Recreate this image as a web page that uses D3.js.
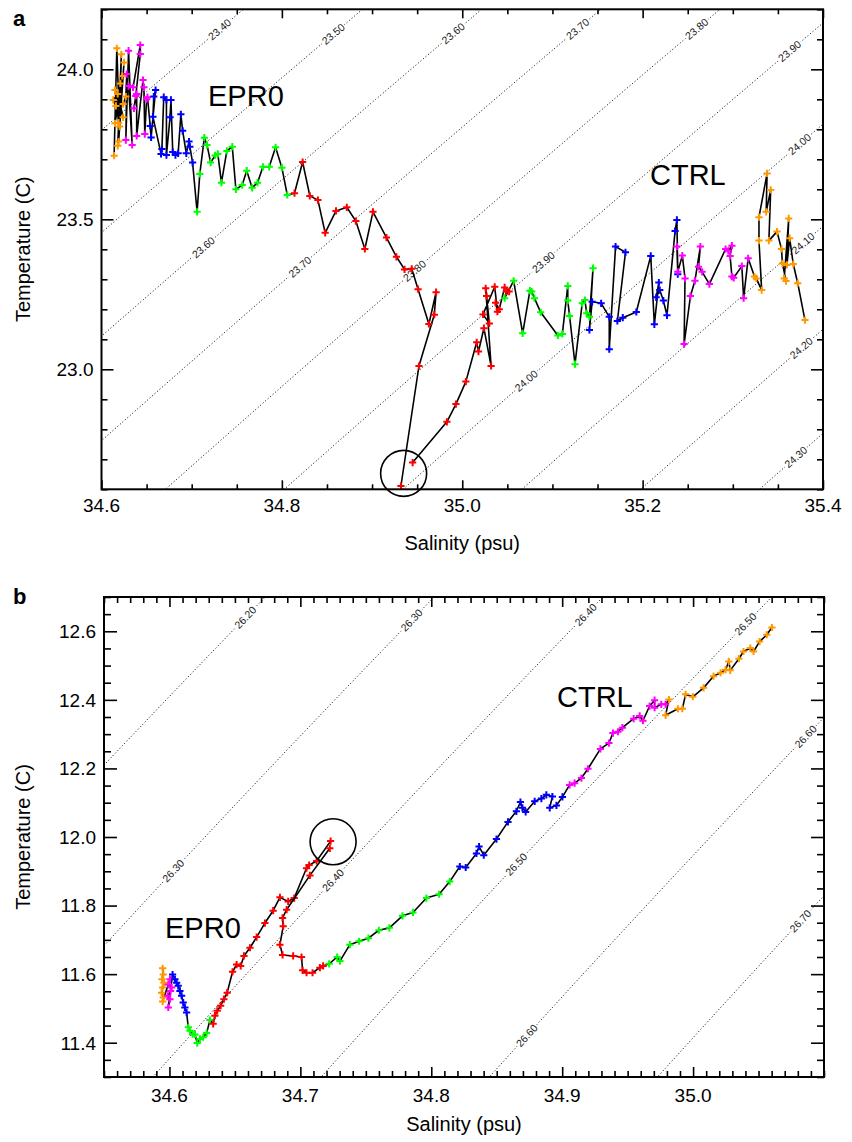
<!DOCTYPE html>
<html><head><meta charset="utf-8">
<script src="https://cdn.jsdelivr.net/npm/d3@7"></script>
<style>
body{margin:0;background:#fff}
svg{display:block}
text{font-family:"Liberation Sans",Arial,Helvetica,sans-serif}
</style></head>
<body><svg id="chart" width="852" height="1142"></svg>
<script>
// ---------------- DATA ----------------
const groupColors = {o:"#FF9900", m:"#FF00FF", b:"#0000FF", g:"#00FF00", r:"#FF0000"};

// Panel a tick labels & isopycnals
const aSalTicks = [34.6, 34.8, 35.0, 35.2, 35.4];
const aTempTicks = [23.0, 23.5, 24.0];
const aSigmaLevels = [23.4, 23.5, 23.6, 23.7, 23.8, 23.9, 24.0, 24.1, 24.2, 24.3];
const aSigmaLabelSal = [[34.731],[34.857],[34.990,34.713],[35.128,34.820],[35.260,34.947],[35.363,35.090],[35.374,35.071],[35.378],[35.376],[35.370]];

// Panel a, EPR0 (orange -> red, ends in circle)
const aEprSal = [
 34.614,34.617,34.620,34.622,34.618,34.625,34.619,34.623,34.615,34.621,34.619,34.615,34.624,34.618,34.613,34.616,34.624,34.627,
 34.628,34.627,34.630,34.634,34.630,34.635,34.643,34.643,34.638,34.636,34.639,34.639,34.646,34.647,34.648,34.650,34.651,
 34.654,34.655,34.660,34.658,34.657,34.666,34.667,34.669,34.672,34.672,34.676,34.677,34.679,34.682,34.685,34.688,34.690,34.694,34.697,34.698,34.701,
 34.706,34.709,34.714,34.717,34.721,34.726,34.729,34.733,34.739,34.745,34.749,34.756,34.761,34.767,34.773,34.779,34.786,34.793,34.800,34.806,
 34.814,34.823,34.831,34.840,34.848,34.860,34.872,34.882,34.892,34.901,34.916,34.927,34.936,34.944,34.951,34.963,34.971,34.969,34.952,34.932];
const aEprTemp = [
 23.712,24.070,23.809,24.050,23.745,24.023,23.759,23.978,23.820,23.953,23.822,23.931,23.840,23.918,23.898,23.878,23.884,23.909,
 23.984,23.764,24.062,23.748,23.944,23.940,24.081,24.051,23.911,23.870,23.918,23.778,23.964,23.940,23.784,23.900,23.907,
 23.811,23.773,23.931,23.909,23.842,23.718,23.734,23.907,23.898,23.714,23.840,23.898,23.724,23.714,23.720,23.850,23.795,23.720,23.759,23.742,23.689,
 23.525,23.651,23.772,23.748,23.689,23.713,23.718,23.622,23.728,23.742,23.600,23.614,23.662,23.605,23.622,23.675,23.675,23.740,23.672,23.581,
 23.587,23.691,23.578,23.564,23.455,23.528,23.540,23.494,23.401,23.525,23.439,23.375,23.333,23.335,23.267,23.151,23.257,23.182,23.011,22.611];
const aEprGroups = [["o",18],["m",17],["b",21],["g",20],["r",20]];

// Panel a, CTRL (circle -> red -> orange)
const aCtrlSal = [
 34.945,34.983,34.993,35.004,35.016,35.018,35.024,35.032,35.026,35.027,35.030,35.023,35.036,35.039,35.037,35.041,35.047,35.052,35.049,
 35.047,35.057,35.067,35.075,35.077,35.080,35.087,35.106,35.111,35.117,35.117,35.119,35.125,35.133,35.136,35.138,35.141,35.145,
 35.141,35.144,35.154,35.163,35.163,35.170,35.181,35.172,35.178,35.193,35.209,35.213,35.218,35.215,35.219,35.223,35.227,35.236,35.238,35.239,
 35.238,35.239,35.244,35.247,35.246,35.253,35.258,35.264,35.262,35.266,35.274,35.292,35.295,35.299,35.297,35.299,35.301,35.310,35.312,35.317,
 35.324,35.326,35.332,35.329,35.329,35.338,35.337,35.342,35.340,35.349,35.354,35.355,35.359,35.357,35.362,35.360,35.363,35.367,35.372,35.380];
const aCtrlTemp = [
 22.689,22.825,22.884,22.959,23.090,23.059,23.137,23.011,23.270,23.244,23.153,23.183,23.275,23.192,23.222,23.200,23.273,23.259,23.259,
 23.237,23.295,23.120,23.262,23.259,23.237,23.190,23.113,23.118,23.278,23.229,23.178,23.017,23.220,23.231,23.187,23.175,23.337,
 23.131,23.225,23.220,23.175,23.067,23.409,23.390,23.161,23.172,23.191,23.378,23.150,23.289,23.240,23.264,23.229,23.180,23.461,23.498,23.317,
 23.409,23.325,23.379,23.303,23.084,23.244,23.295,23.409,23.342,23.325,23.284,23.401,23.395,23.412,23.378,23.309,23.305,23.344,23.237,23.370,
 23.309,23.303,23.264,23.429,23.507,23.653,23.525,23.598,23.429,23.459,23.401,23.353,23.294,23.303,23.503,23.348,23.437,23.351,23.287,23.164];
const aCtrlGroups = [["r",19],["g",18],["b",20],["m",20],["o",20]];

// Panel b tick labels & isopycnals
const bSalTicks = [34.6, 34.7, 34.8, 34.9, 35.0];
const bTempTicks = [11.4, 11.6, 11.8, 12.0, 12.2, 12.4, 12.6];
const bSigmaLevels = [26.2, 26.3, 26.4, 26.5, 26.6, 26.7];
const bSigmaLabelSal = [[34.658],[34.785,34.603],[34.918,34.725],[35.040,34.865],[35.086,34.873],[35.082]];

// Panel b, EPR0 (orange -> red, ends in circle)
const bEprSal = [
 34.5948,34.5953,34.5943,34.5958,34.5948,34.5940,34.5953,34.5948,
 34.6004,34.5991,34.6017,34.6009,34.5986,34.6004,34.5991,
 34.6024,34.6042,34.6055,34.6067,34.6080,34.6093,34.6105,34.6118,34.6131,
 34.6144,34.6156,34.6177,34.6195,34.6212,34.6233,34.6258,34.6284,34.6309,
 34.6334,34.6347,34.6365,34.6391,34.6416,34.6441,34.6482,34.6513,34.6544,34.6569,34.6615,34.6666,34.6729,34.6792,34.6844,34.6907,34.6953,34.7047,34.7067,34.7124,34.7231];
const bEprTemp = [
 11.617,11.599,11.585,11.575,11.561,11.546,11.532,11.520,
 11.585,11.570,11.561,11.551,11.537,11.527,11.503,
 11.599,11.585,11.575,11.566,11.551,11.537,11.517,11.503,11.488,
 11.445,11.435,11.425,11.424,11.399,11.411,11.416,11.428,11.466,
 11.455,11.479,11.493,11.508,11.527,11.546,11.607,11.628,11.624,11.653,11.677,11.708,11.749,11.785,11.824,11.812,11.822,11.909,11.918,11.930,11.988];
const bEprGroups = [["o",8],["m",7],["b",9],["g",9],["r",21]];

// Panel b, CTRL (circle -> red -> orange)
const bCtrlSal = [
 34.7225,34.7073,34.6895,34.6864,34.6869,34.6844,34.6864,34.6945,34.7009,34.7017,34.7047,34.7093,34.7149,34.7174,
 34.7220,34.7281,34.7302,34.7378,34.7449,34.7520,34.7600,34.7680,34.7780,34.7860,34.7963,34.8060,34.8141,
 34.8218,34.8263,34.8345,34.8365,34.8401,34.8498,34.8586,34.8650,34.8681,34.8696,34.8721,34.8790,34.8841,34.8879,34.8925,34.8905,34.8956,34.9002,
 34.9057,34.9095,34.9147,34.9197,34.9292,34.9357,34.9388,34.9426,34.9460,34.9546,34.9592,34.9617,34.9668,34.9706,34.9706,34.9757,34.9790,
 34.9815,34.9790,34.9884,34.9918,34.9943,34.9998,35.0080,35.0156,35.0210,35.0248,35.0273,35.0284,35.0350,35.0385,35.0437,35.0462,35.0508,35.0563,35.0602];
const bCtrlTemp = [
 11.967,11.888,11.788,11.764,11.740,11.686,11.656,11.653,11.650,11.611,11.604,11.604,11.619,11.624,
 11.630,11.650,11.638,11.686,11.696,11.705,11.728,11.735,11.770,11.780,11.822,11.833,11.870,
 11.914,11.911,11.952,11.972,11.947,11.994,12.044,12.075,12.102,12.085,12.073,12.104,12.112,12.123,12.118,12.085,12.092,12.117,
 12.152,12.157,12.172,12.199,12.257,12.274,12.303,12.307,12.319,12.345,12.353,12.339,12.382,12.399,12.377,12.387,12.387,
 12.401,12.355,12.374,12.374,12.416,12.409,12.435,12.469,12.479,12.488,12.512,12.486,12.520,12.541,12.551,12.541,12.570,12.590,12.611];
const bCtrlGroups = [["r",14],["g",13],["b",18],["m",17],["o",19]];

// circles marking the common starting point (salinity, temperature)
const circleSal = [34.935, 34.725];
const circleTemp = [22.653, 11.986];

// ---------------- EOS-80 (p = 0) ----------------
function sigmaT(S, T){
  const T2=T*T, T3=T2*T, T4=T3*T, T5=T4*T;
  const rw = 999.842594 + 6.793952e-2*T - 9.095290e-3*T2 + 1.001685e-4*T3 - 1.120083e-6*T4 + 6.536332e-9*T5;
  const A = 0.824493 - 4.0899e-3*T + 7.6438e-5*T2 - 8.2467e-7*T3 + 5.3875e-9*T4;
  const B = -5.72466e-3 + 1.0227e-4*T - 1.6546e-6*T2;
  return rw + A*S + B*Math.pow(S,1.5) + 4.8314e-4*S*S - 1000;
}
function tempOnIsopycnal(S, sig){
  let lo=-2, hi=40;
  for(let i=0;i<60;i++){ const m=(lo+hi)/2; if(sigmaT(S,m)>sig) lo=m; else hi=m; }
  return (lo+hi)/2;
}

// ---------------- DRAW ----------------
const svg = d3.select("#chart");
svg.append("rect").attr("width",852).attr("height",1142).attr("fill","#fff");

const panels = [
  {tag:"a", box:{l:101.5,r:823,t:9.3,b:489.3}, sal:[34.6,35.4], temp:[22.6,24.2],
   salTicks:aSalTicks, salMinor:0.05, tempTicks:aTempTicks, tempMinor:0.1,
   xMaj:9, xMin:5, yMaj:12, yMin:6,
   levels:aSigmaLevels, labelSal:aSigmaLabelSal,
   runs:[{S:aEprSal,T:aEprTemp,G:aEprGroups},{S:aCtrlSal,T:aCtrlTemp,G:aCtrlGroups}],
   circle:0, tickLabY:512, titleY:550, tagY:26,
   texts:[{t:"EPR0",x:208,y:106},{t:"CTRL",x:650,y:185}]},
  {tag:"b", box:{l:104,r:824,t:597,b:1077}, sal:[34.55,35.1], temp:[11.3,12.7],
   salTicks:bSalTicks, salMinor:0.01, tempTicks:bTempTicks, tempMinor:0.05,
   xMaj:10, xMin:6, yMaj:13, yMin:7,
   levels:bSigmaLevels, labelSal:bSigmaLabelSal,
   runs:[{S:bEprSal,T:bEprTemp,G:bEprGroups},{S:bCtrlSal,T:bCtrlTemp,G:bCtrlGroups}],
   circle:1, tickLabY:1102, titleY:1131, tagY:604,
   texts:[{t:"CTRL",x:557,y:707},{t:"EPR0",x:165,y:938}]}
];

panels.forEach((P,pi)=>{
  const bx=P.box;
  const x=d3.scaleLinear().domain(P.sal).range([bx.l,bx.r]);
  const y=d3.scaleLinear().domain(P.temp).range([bx.b,bx.t]);
  const clipId="clip"+pi;
  svg.append("clipPath").attr("id",clipId).append("rect")
    .attr("x",bx.l).attr("y",bx.t).attr("width",bx.r-bx.l).attr("height",bx.b-bx.t);

  // isopycnals
  const cg=svg.append("g").attr("clip-path",`url(#${clipId})`);
  const Ss=d3.range(P.sal[0]-0.1,P.sal[1]+0.1,0.004);
  const line=d3.line().x(d=>x(d[0])).y(d=>y(d[1]));
  P.levels.forEach((lev,i)=>{
    const pts=Ss.map(s=>[s,tempOnIsopycnal(s,lev)]);
    cg.append("path").attr("d",line(pts)).attr("fill","none")
      .attr("stroke","#000").attr("stroke-width",1).attr("stroke-dasharray","1,2.3");
    P.labelSal[i].forEach(s=>{
      const t=tempOnIsopycnal(s,lev);
      const px=x(s), py=y(t);
      const t2=tempOnIsopycnal(s+0.01,lev);
      const ang=Math.atan2(y(t2)-py, x(s+0.01)-px)*180/Math.PI;
      const lg=cg.append("g").attr("transform",`translate(${px},${py}) rotate(${ang})`);
      const rect=lg.append("rect").attr("fill","#fff");
      const tx=lg.append("text").text(d3.format(".2f")(lev))
        .attr("text-anchor","middle").attr("dy","0.35em")
        .attr("font-size",10.5).attr("fill","#222");
      const w=tx.node().getComputedTextLength()+3;
      rect.attr("x",-w/2).attr("y",-4).attr("width",w).attr("height",8);
    });
  });

  // data
  const dg=svg.append("g").attr("clip-path",`url(#${clipId})`);
  P.runs.forEach(run=>{
    const cols=[]; run.G.forEach(([c,n])=>{for(let k=0;k<n;k++) cols.push(c);});
    const pts=run.S.map((s,k)=>({s, t:run.T[k], c:cols[k]||"r"}));
    dg.append("path").attr("d",d3.line().x(d=>x(d.s)).y(d=>y(d.t))(pts))
      .attr("fill","none").attr("stroke","#000").attr("stroke-width",1.6).attr("stroke-linejoin","round");
    dg.selectAll(null).data(pts).join("path")
      .attr("transform",d=>`translate(${x(d.s)},${y(d.t)})`)
      .attr("d","M-3.6,0H3.6M0,-3.6V3.6")
      .attr("stroke",d=>groupColors[d.c]).attr("stroke-width",2);
  });

  // circle
  svg.append("circle").attr("cx",x(circleSal[P.circle])).attr("cy",y(circleTemp[P.circle]))
    .attr("r",23).attr("fill","none").attr("stroke","#000").attr("stroke-width",1.6);

  // ticks (inward on all four sides)
  const xMinorVals=d3.range(Math.round(P.sal[0]/P.salMinor),Math.round(P.sal[1]/P.salMinor)+1).map(k=>+(k*P.salMinor).toFixed(3))
    .filter(v=>!P.salTicks.some(m=>Math.abs(m-v)<1e-6));
  const yMinorVals=d3.range(Math.round(P.temp[0]/P.tempMinor),Math.round(P.temp[1]/P.tempMinor)+1).map(k=>+(k*P.tempMinor).toFixed(3))
    .filter(v=>!P.tempTicks.some(m=>Math.abs(m-v)<1e-6));
  const addAxis=(gen,transform,vals,len)=>{
    const g=svg.append("g").attr("transform",transform)
      .call(gen.tickValues(vals).tickSize(-len).tickFormat(""));
    g.select(".domain").remove();
    g.selectAll(".tick line").attr("stroke","#000").attr("stroke-width",1.6);
  };
  addAxis(d3.axisBottom(x),`translate(0,${bx.b})`,P.salTicks,P.xMaj);
  addAxis(d3.axisBottom(x),`translate(0,${bx.b})`,xMinorVals,P.xMin);
  addAxis(d3.axisTop(x),`translate(0,${bx.t})`,P.salTicks,P.xMaj);
  addAxis(d3.axisTop(x),`translate(0,${bx.t})`,xMinorVals,P.xMin);
  addAxis(d3.axisLeft(y),`translate(${bx.l},0)`,P.tempTicks,P.yMaj);
  addAxis(d3.axisLeft(y),`translate(${bx.l},0)`,yMinorVals,P.yMin);
  addAxis(d3.axisRight(y),`translate(${bx.r},0)`,P.tempTicks,P.yMaj);
  addAxis(d3.axisRight(y),`translate(${bx.r},0)`,yMinorVals,P.yMin);

  // frame
  svg.append("rect").attr("x",bx.l).attr("y",bx.t).attr("width",bx.r-bx.l).attr("height",bx.b-bx.t)
    .attr("fill","none").attr("stroke","#000").attr("stroke-width",2);

  // tick labels
  const fmt=d3.format(".1f");
  svg.append("g").selectAll("text").data(P.salTicks).join("text")
    .attr("x",d=>x(d)).attr("y",P.tickLabY).attr("text-anchor","middle")
    .attr("font-size",19).text(fmt);
  svg.append("g").selectAll("text").data(P.tempTicks).join("text")
    .attr("x",bx.l-8).attr("y",d=>y(d)).attr("dy","0.36em").attr("text-anchor","end")
    .attr("font-size",19).text(fmt);

  // titles
  svg.append("text").attr("x",(bx.l+bx.r)/2).attr("y",P.titleY).attr("text-anchor","middle")
    .attr("font-size",20).text("Salinity (psu)");
  svg.append("text").attr("transform",`translate(30,${(bx.t+bx.b)/2}) rotate(-90)`)
    .attr("text-anchor","middle").attr("font-size",20).text("Temperature (C)");
  svg.append("text").attr("x",13).attr("y",P.tagY).attr("font-size",22).attr("font-weight","bold").text(P.tag);

  P.texts.forEach(d=>svg.append("text").attr("x",d.x).attr("y",d.y).attr("font-size",29).text(d.t));
});
</script></body></html>
